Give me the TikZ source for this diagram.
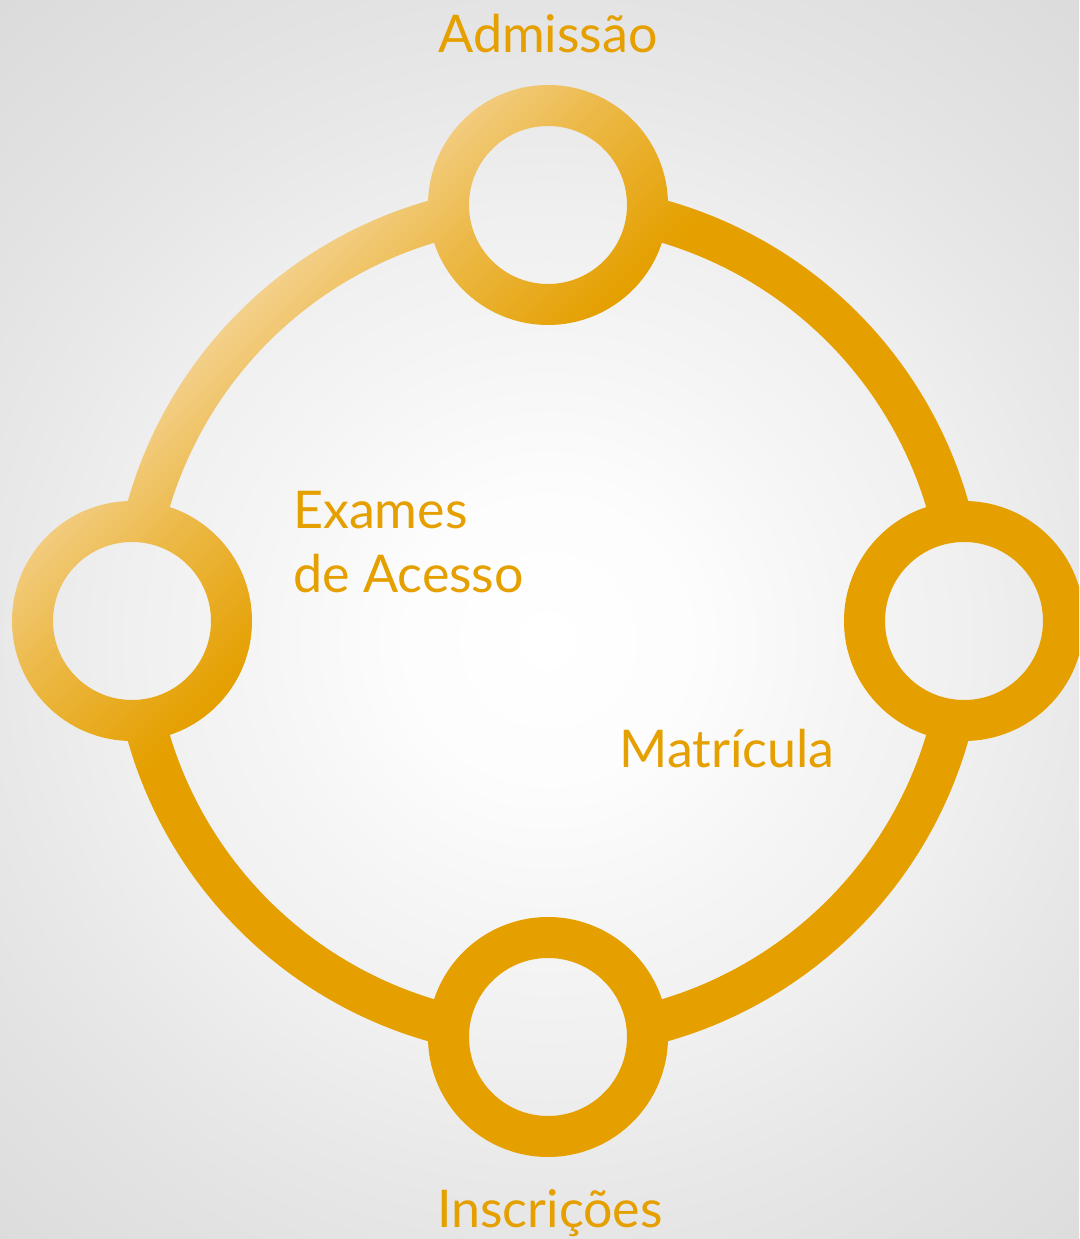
\documentclass[tikz,border=0pt]{standalone}
\usepackage{fontspec}
\setmainfont{Lato}
\usetikzlibrary{calc}
\definecolor{gold}{HTML}{E5A000}
\definecolor{goldlight}{HTML}{F4D394}
\pgfdeclareradialshading{bgglow}{\pgfpointorigin}{color(0bp)=(white); color(150bp)=(white!99!black); color(300bp)=(white!96!black); color(420bp)=(white!94!black); color(550bp)=(white!91!black); color(650bp)=(white!89!black); color(830bp)=(white!86!black); color(900bp)=(white!86!black)}
\pgfdeclarehorizontalshading{ringglow}{1600bp}{color(0bp)=(goldlight); color(350bp)=(goldlight); color(470bp)=(goldlight!50!gold); color(620bp)=(gold); color(1600bp)=(gold)}
\begin{document}
\begin{tikzpicture}[x=1pt,y=1pt,line join=round]
\tikzset{label style/.style={text=gold,font=\fontsize{52}{64}\selectfont,inner sep=0pt}}
\clip (0,0) rectangle (1079,1239);
\node[inner sep=0pt] (bg) at (548,599) {\pgfuseshading{bgglow}};
\coordinate (c) at (548,618);
\begin{scope}
\clip
  \foreach \a in {0,90,180,270}{
    ($(c)+(\a:416)+(120,0)$) arc[start angle=0,end angle=360,radius=120]
    ($(c)+(\a:416)+(79,0)$) arc[start angle=360,end angle=0,radius=79]
    ($(c)+(\a+13.8:437)$) arc[start angle=\a+13.8,end angle=\a+76.2,radius=437]
      -- ($(c)+(\a+76.2:395)$) arc[start angle=\a+76.2,end angle=\a+13.8,radius=395] -- cycle
  };
\node[inner sep=0pt,rotate=-45] (glow) at (c) {\pgfuseshading{ringglow}};
\end{scope}
\node[label style,anchor=base] (admissao) at (548,1186) {Admissão};
\node[label style,anchor=north west,align=left] (exames) at (293,748) {Exames\\de Acesso};
\node[label style,anchor=base] (matricula) at (727,471) {Matrícula};
\node[label style,anchor=base] (inscricoes) at (550,12) {Inscrições};
\end{tikzpicture}
\end{document}
